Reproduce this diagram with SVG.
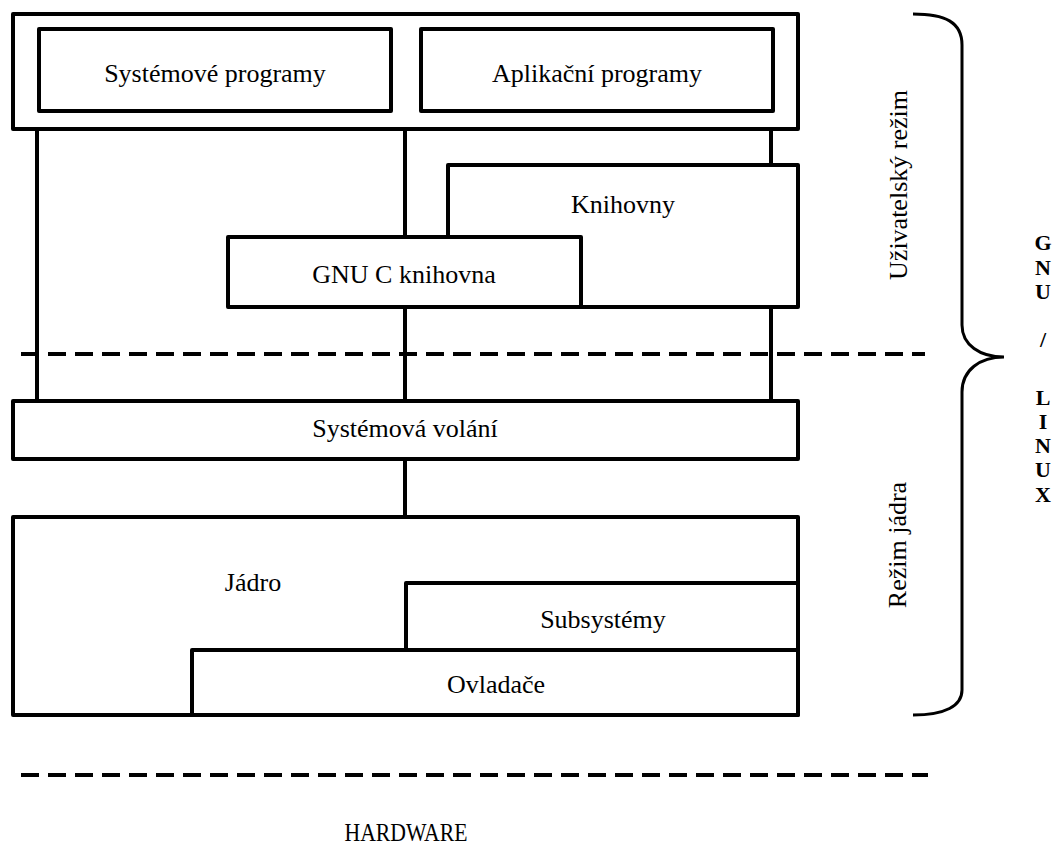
<svg xmlns="http://www.w3.org/2000/svg" width="1063" height="847" viewBox="0 0 1063 847">
<style>
.box{fill:#fff;stroke:#000;stroke-width:4;stroke-linejoin:round}
.ln{stroke:#000;stroke-width:4;fill:none}
.dash{stroke:#000;stroke-width:4;fill:none;stroke-dasharray:18 9}
.brace{stroke:#000;stroke-width:3;fill:none}
text{font-family:"Liberation Serif","Times New Roman",serif;font-size:26px;fill:#000;text-anchor:middle}
.b{font-weight:bold;font-size:22px}
</style>
<rect width="1063" height="847" fill="#fff"/>
<g id="connectors">
<line class="ln" x1="37" y1="129" x2="37" y2="401"/>
<line class="ln" x1="405" y1="129" x2="405" y2="401"/>
<line class="ln" x1="771" y1="129" x2="771" y2="401"/>
<line class="ln" x1="405" y1="459" x2="405" y2="517"/>
</g>
<g id="uzivatelske">
<rect class="box" x="13" y="14" width="785" height="115"/>
</g>
<g id="systemove-programy">
<rect class="box" x="39" y="29" width="352" height="82"/>
<text x="215" y="82">Systémové programy</text>
</g>
<g id="aplikacni-programy">
<rect class="box" x="421" y="29" width="352" height="82"/>
<text x="597" y="82">Aplikační programy</text>
</g>
<g id="knihovny">
<rect class="box" x="448" y="165" width="350" height="142"/>
<text x="623" y="213">Knihovny</text>
</g>
<g id="gnu-c">
<rect class="box" x="228" y="237" width="353" height="70"/>
<text x="404" y="283">GNU C knihovna</text>
</g>
<g id="systemova-volani">
<rect class="box" x="13" y="401" width="785" height="58"/>
<text x="405" y="437">Systémová volání</text>
</g>
<g id="jadro">
<rect class="box" x="13" y="517" width="785" height="198"/>
<text x="253" y="591">Jádro</text>
</g>
<g id="subsystemy">
<rect class="box" x="406" y="583" width="392" height="67"/>
<text x="603" y="628">Subsystémy</text>
</g>
<g id="ovladace">
<rect class="box" x="192" y="650" width="606" height="65"/>
<text x="496" y="693">Ovladače</text>
</g>
<g id="separators">
<line class="dash" x1="21" y1="354" x2="925" y2="354"/>
<line class="dash" x1="21" y1="775" x2="928" y2="775"/>
</g>
<g id="brace">
<path class="brace" d="M913 14 C945 14 962 22 962 45 L962 325 C962 345 980 357 1004 357 C980 357 962 370 962 392 L962 690 C962 706 945 715 913 715"/>
</g>
<g id="labels">
<text transform="translate(907,185) rotate(-90)">Uživatelský režim</text>
<text transform="translate(906,545) rotate(-90)">Režim jádra</text>
<text class="b" x="1043" y="250">G</text>
<text class="b" x="1043" y="275">N</text>
<text class="b" x="1043" y="299">U</text>
<text class="b" x="1043" y="347">/</text>
<text class="b" x="1043" y="405">L</text>
<text class="b" x="1043" y="429">I</text>
<text class="b" x="1043" y="453">N</text>
<text class="b" x="1043" y="477">U</text>
<text class="b" x="1043" y="502">X</text>
<text x="406" y="841" font-size="24" textLength="123" lengthAdjust="spacingAndGlyphs">HARDWARE</text>
</g>
</svg>
